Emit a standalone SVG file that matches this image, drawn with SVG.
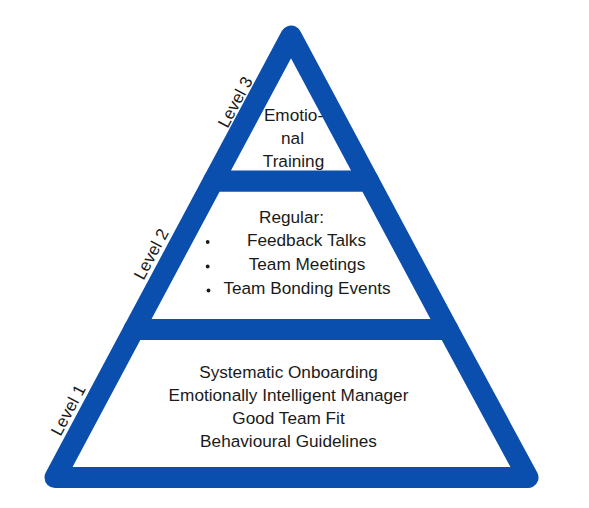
<svg xmlns="http://www.w3.org/2000/svg" width="589" height="508" viewBox="0 0 589 508">
<style>
.lvl{fill:#ffffff;stroke:#0a4fae;stroke-width:21;stroke-linejoin:round}
text{font-family:"Liberation Sans",Arial,sans-serif;font-size:17.2px;fill:#1a1a1a}
.c{text-anchor:middle}
.lab{text-anchor:middle;font-size:17px}
</style>
<rect width="589" height="508" fill="#ffffff"/>
<g id="level1">
<polygon class="lvl" points="134,329.5 448,329.5 528,477.5 55,477.5"/>
<text class="c" x="288.5" y="377.5">Systematic Onboarding</text>
<text class="c" x="288.5" y="400.5">Emotionally Intelligent Manager</text>
<text class="c" x="288.5" y="423.5">Good Team Fit</text>
<text class="c" x="288.5" y="446.5">Behavioural Guidelines</text>
</g>
<g id="level2">
<polygon class="lvl" points="213.4,181 368.6,181 448,329.5 134,329.5"/>
<text class="c" x="291.5" y="222.5">Regular:</text>
<circle cx="207.7" cy="242" r="1.9" fill="#1a1a1a"/>
<circle cx="207.7" cy="266.5" r="1.9" fill="#1a1a1a"/>
<circle cx="208.5" cy="290.5" r="1.9" fill="#1a1a1a"/>
<text class="c" x="306.5" y="246">Feedback Talks</text>
<text class="c" x="307" y="270">Team Meetings</text>
<text class="c" x="307" y="293.5">Team Bonding Events</text>
</g>
<g id="level3">
<polygon class="lvl" points="291,36 368.6,181 213.4,181"/>
<text class="c" x="293.5" y="121">Emotio-</text>
<text class="c" x="292.5" y="144">nal</text>
<text class="c" x="293.5" y="166.5">Training</text>
</g>
<g id="labels">
<text class="lab" transform="translate(235,102) rotate(-62)" y="6">Level 3</text>
<text class="lab" transform="translate(151,254) rotate(-62)" y="6">Level 2</text>
<text class="lab" transform="translate(68,410) rotate(-62)" y="6">Level 1</text>
</g>
</svg>
